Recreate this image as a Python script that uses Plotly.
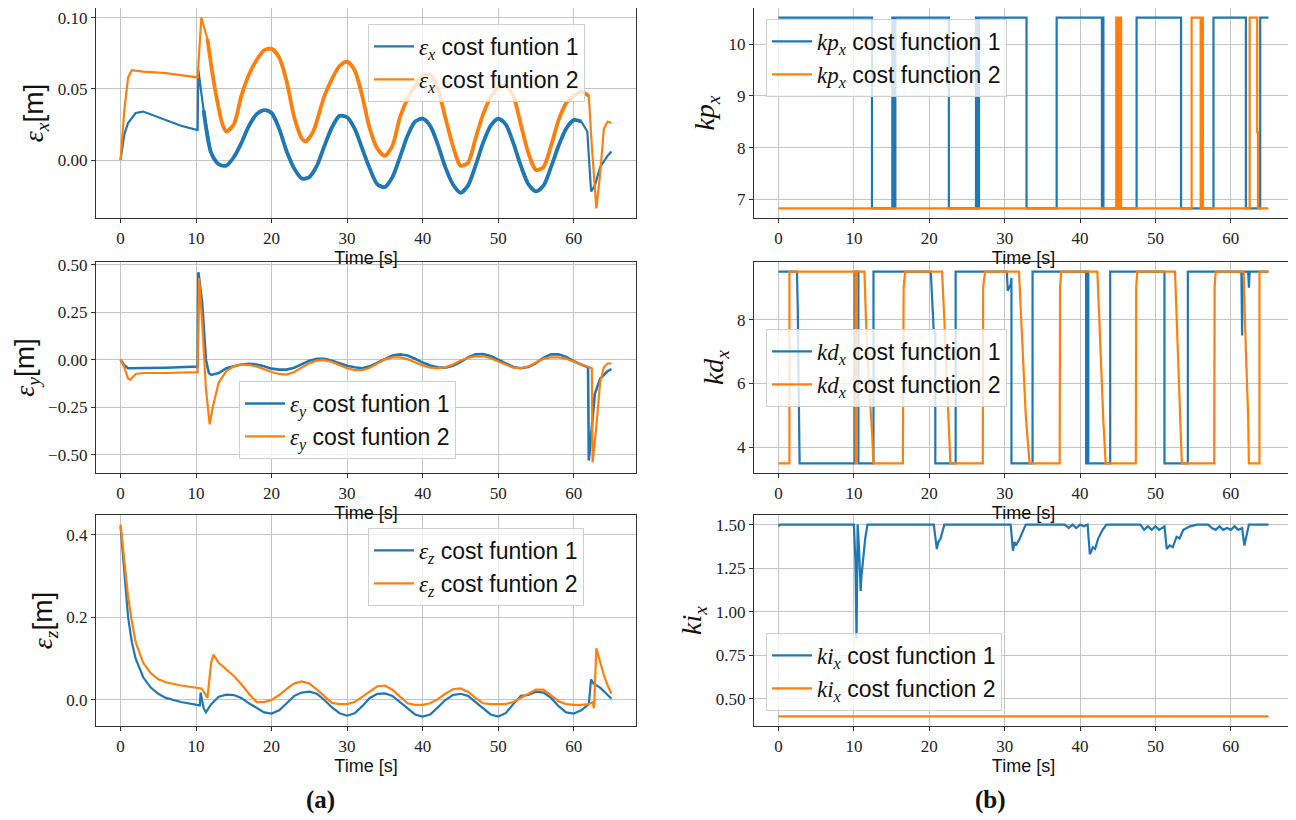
import plotly.graph_objects as go

# ---------------- data ----------------
time_ticks = [0, 10, 20, 30, 40, 50, 60]

# epsilon_x
ex1_t = [0, 0.5, 1, 2, 3, 4, 6, 8, 10.2, 10.3, 11, 12, 13, 14, 15, 16, 17, 18, 19, 20, 21, 22, 23, 24, 25, 26, 27, 28, 29, 30,
         31, 32, 33, 34, 35, 36, 37, 38, 39, 40, 41, 42, 43, 44, 45, 46, 47, 48, 49, 50, 51, 52, 53, 54, 55, 56, 57, 58, 59,
         60, 61, 61.8, 62.3, 62.8, 63.5, 64.5, 65]
ex1_v = [0.0, 0.018, 0.026, 0.033, 0.034, 0.032, 0.028, 0.024, 0.021, 0.063, 0.035, 0.005, -0.003, -0.004, 0.002, 0.012,
         0.024, 0.032, 0.035, 0.033, 0.022, 0.006, -0.006, -0.013, -0.012, -0.004, 0.010, 0.023, 0.031, 0.030, 0.022, 0.008,
         -0.006, -0.017, -0.019, -0.012, 0.002, 0.017, 0.027, 0.029, 0.024, 0.011, -0.005, -0.017, -0.023, -0.018, -0.004,
         0.012, 0.024, 0.029, 0.025, 0.012, -0.004, -0.017, -0.022, -0.018, -0.005, 0.010, 0.022, 0.028, 0.027, 0.020,
         -0.022, -0.018, -0.005, 0.003, 0.006]
ex2_t = [0, 0.5, 1, 1.5, 3, 6, 10.2, 10.7, 11.5, 12.5, 13.5, 14, 15, 16, 17, 18, 19, 20, 21, 22, 23, 24, 24.5, 25.5, 27, 28, 29,
         30, 31, 32, 33, 34, 35, 36, 37, 38, 39, 40, 41, 42, 43, 44, 45, 46, 47, 48, 49, 50, 51, 52, 53, 54, 55, 56, 57, 58,
         59, 60, 61, 62, 62.4, 63, 63.5, 64, 64.5, 65]
ex2_v = [0.0, 0.035, 0.058, 0.063, 0.062, 0.061, 0.058, 0.100, 0.085, 0.050, 0.025, 0.020, 0.025, 0.045, 0.060, 0.070, 0.077,
         0.078, 0.072, 0.055, 0.030, 0.015, 0.013, 0.020, 0.045, 0.057, 0.066, 0.069, 0.063, 0.045, 0.022, 0.008, 0.003,
         0.010, 0.030, 0.043, 0.052, 0.059, 0.060, 0.050, 0.030, 0.010, -0.004, -0.002, 0.015, 0.032, 0.044, 0.051, 0.052,
         0.045, 0.025, 0.005, -0.007, -0.005, 0.010, 0.028, 0.040, 0.045, 0.048, 0.045, 0.010, -0.034, -0.010, 0.022, 0.027,
         0.026]

# epsilon_y
ey1_t = [0, 0.5, 1, 3, 6, 10.2, 10.3, 10.8, 11.3, 11.7, 12, 13, 14, 15, 16, 17, 18, 19, 20, 21, 22, 23, 24, 25, 26, 27, 28, 29,
         30, 31, 32, 33, 34, 35, 36, 37, 38, 39, 40, 41, 42, 43, 44, 45, 46, 47, 48, 49, 50, 51, 52, 53, 54, 55, 56, 57, 58,
         59, 60, 61, 61.9, 62.0, 62.4, 62.8, 63.5, 64.5, 65]
ey1_v = [0.0, -0.03, -0.045, -0.045, -0.042, -0.036, 0.46, 0.30, 0.0, -0.07, -0.08, -0.07, -0.045, -0.035, -0.025, -0.022,
         -0.025, -0.035, -0.047, -0.052, -0.052, -0.042, -0.022, -0.005, 0.005, 0.005, -0.005, -0.02, -0.032, -0.04, -0.045,
         -0.035, -0.015, 0.005, 0.022, 0.028, 0.022, 0.005, -0.015, -0.03, -0.04, -0.042, -0.032, -0.012, 0.012, 0.028,
         0.030, 0.020, 0.0, -0.022, -0.038, -0.045, -0.038, -0.018, 0.010, 0.028, 0.028, 0.015, -0.008, -0.025, -0.04,
         -0.53, -0.35, -0.18, -0.10, -0.06, -0.05]
ey2_t = [0, 0.5, 1, 1.3, 2, 3, 6, 10.2, 10.4, 10.8, 11.3, 11.8, 12.2, 13, 14, 15, 16, 17, 18, 19, 20, 21, 22, 23, 24, 25, 26,
         27, 28, 29, 30, 31, 32, 33, 34, 35, 36, 37, 38, 39, 40, 41, 42, 43, 44, 45, 46, 47, 48, 49, 50, 51, 52, 53, 54, 55,
         56, 57, 58, 59, 60, 61, 62.4, 62.5, 63, 63.5, 64, 64.5, 65]
ey2_v = [0.0, -0.04, -0.10, -0.105, -0.075, -0.07, -0.07, -0.065, 0.43, 0.20, -0.15, -0.34, -0.25, -0.12, -0.06, -0.035,
         -0.025, -0.028, -0.035, -0.05, -0.065, -0.075, -0.078, -0.065, -0.04, -0.018, -0.005, -0.002, -0.012, -0.03,
         -0.045, -0.055, -0.055, -0.042, -0.02, 0.002, 0.012, 0.012, 0.003, -0.015, -0.03, -0.042, -0.045, -0.04, -0.025,
         -0.005, 0.01, 0.018, 0.018, 0.008, -0.01, -0.028, -0.042, -0.045, -0.035, -0.015, 0.005, 0.012, 0.012, 0.005,
         -0.01, -0.028, -0.045, -0.54, -0.35, -0.12, -0.04, -0.02, -0.02]

# epsilon_z
ez1_t = [0, 0.5, 1, 1.5, 2, 3, 4, 5, 6, 8, 10, 10.5, 10.6, 11, 11.3, 12, 13, 14, 15, 16, 17, 18, 19, 20, 21, 22, 23, 24, 25,
         26, 27, 28, 29, 30, 31, 32, 33, 34, 35, 36, 37, 38, 39, 40, 41, 42, 43, 44, 45, 46, 47, 48, 49, 50, 51, 52, 53, 54,
         55, 56, 57, 58, 59, 60, 61, 62, 62.3, 62.6, 63.5, 64.5, 65]
ez1_v = [0.42, 0.30, 0.20, 0.14, 0.10, 0.055, 0.03, 0.015, 0.005, -0.005, -0.012, -0.013, 0.018, -0.02, -0.03, -0.01, 0.008,
         0.013, 0.012, 0.005, -0.008, -0.02, -0.03, -0.033, -0.025, -0.008, 0.010, 0.018, 0.02, 0.015, 0.0, -0.018, -0.032,
         -0.038, -0.032, -0.015, 0.005, 0.015, 0.016, 0.01, -0.005, -0.022, -0.035, -0.04, -0.035, -0.018, 0.0, 0.012,
         0.015, 0.01, -0.005, -0.022, -0.035, -0.04, -0.032, -0.01, 0.01, 0.012, 0.02, 0.018, 0.005, -0.015, -0.03, -0.033,
         -0.025, -0.01, 0.05, 0.04, 0.03, 0.012, 0.003]
ez2_t = [0, 0.5, 1, 1.5, 2, 3, 4, 5, 6, 8, 10, 10.7, 11.2, 11.5, 12, 12.3, 13, 14, 15, 16, 17, 18, 19, 20, 21, 22, 23, 24, 25,
         26, 27, 28, 29, 30, 31, 32, 33, 34, 35, 36, 37, 38, 39, 40, 41, 42, 43, 44, 45, 46, 47, 48, 49, 50, 51, 52, 53, 54,
         55, 56, 57, 58, 59, 60, 61, 62, 62.5, 62.7, 63.0, 63.5, 64, 64.5, 65]
ez2_v = [0.425, 0.33, 0.25, 0.19, 0.14, 0.09, 0.065, 0.05, 0.043, 0.035, 0.03, 0.028, 0.015, 0.005, 0.09, 0.11, 0.09, 0.075,
         0.058, 0.038, 0.015, -0.005, -0.005, 0.0, 0.012, 0.027, 0.04, 0.045, 0.04, 0.025, 0.008, -0.007, -0.01, -0.01,
         -0.005, 0.008, 0.022, 0.033, 0.035, 0.025, 0.008, -0.008, -0.012, -0.012, -0.008, 0.002, 0.015, 0.026, 0.028, 0.02,
         0.005, -0.008, -0.01, -0.01, -0.01, -0.005, 0.005, 0.015, 0.025, 0.025, 0.012, -0.003, -0.01, -0.012, -0.012,
         -0.01, -0.005, -0.02, 0.125, 0.09, 0.06, 0.035, 0.015]

# kp_x (step changes, held until next time)
kp1_t = [0, 12.4, 15.1, 15.3, 15.5, 22.6, 26.2, 26.4, 26.6, 32.9, 36.9, 42.9, 43.0, 43.1, 47.5, 53.4, 57.7, 62.0, 63.9, 65]
kp1_v = [10.52, 6.82, 10.52, 6.82, 10.52, 6.82, 10.52, 6.82, 10.52, 6.82, 10.52, 6.82, 10.52, 6.82, 10.52, 6.82, 10.52,
         6.82, 10.52, 10.52]
kp2_t = [0, 44.8, 44.95, 45.05, 45.2, 45.3, 45.45, 54.8, 56.0, 56.1, 56.3, 62.5, 63.5, 63.6, 65]
kp2_v = [6.82, 10.52, 6.82, 10.52, 6.82, 10.52, 6.82, 10.52, 6.82, 10.52, 6.82, 10.52, 8.3, 6.82, 6.82]

# kd_x
kd1_t = [0, 2.45, 2.55, 2.8, 10.1, 10.1, 10.6, 10.6, 12.6, 12.6, 20.2, 20.6, 20.8, 20.8, 23.5, 23.5, 30.3, 30.4, 30.8, 30.9,
         30.9, 33.7, 33.7, 40.8, 40.8, 40.95, 40.95, 41.1, 41.1, 44.0, 44.0, 51.2, 51.2, 54.3, 54.3, 61.4, 61.5, 61.6, 62.3,
         62.4, 62.5, 65]
kd1_v = [9.5, 9.5, 8.4, 3.5, 3.5, 9.5, 9.5, 3.5, 3.5, 9.5, 9.5, 7.6, 7.6, 3.5, 3.5, 9.5, 9.5, 8.9, 9.1, 9.3, 3.5, 3.5, 9.5,
         9.5, 3.5, 3.5, 9.5, 9.5, 3.5, 3.5, 9.5, 9.5, 3.5, 3.5, 9.5, 9.5, 7.5, 9.5, 9.5, 9.0, 9.5, 9.5]
kd2_t = [0, 1.45, 1.45, 10.2, 10.25, 10.35, 10.4, 11.4, 11.6, 12.0, 12.4, 12.6, 16.5, 16.6, 16.8, 21.7, 22.0, 22.4, 22.8, 27.1,
         27.15, 27.4, 31.9, 32.3, 32.8, 33.3, 37.3, 37.35, 37.5, 42.3, 42.7, 43.1, 43.4, 47.4, 47.45, 47.6, 52.6, 53.0, 53.3,
         53.5, 57.8, 57.85, 58.0, 61.7, 62.0, 62.3, 62.4, 63.8, 63.8, 65]
kd2_v = [3.5, 3.5, 9.5, 9.5, 3.5, 3.5, 9.5, 9.5, 8.0, 6.0, 4.5, 3.5, 3.5, 9.0, 9.5, 9.5, 8.0, 6.0, 3.5, 3.5, 9.0, 9.5, 9.5,
         7.5, 5.0, 3.5, 3.5, 9.0, 9.5, 9.5, 7.0, 4.8, 3.5, 3.5, 9.0, 9.5, 9.5, 7.0, 5.0, 3.5, 3.5, 9.0, 9.5, 9.5, 7.0, 5.0,
         3.5, 3.5, 9.5, 9.5]

# ki_x
ki1_t = [0, 0.2, 10.0, 10.2, 10.35, 10.45, 10.5, 10.7, 10.9, 11.0, 11.2, 11.5, 11.8, 20.6, 21.0, 21.2, 21.5, 21.8, 22.0, 30.8,
         31.1, 31.3, 31.5, 32.0, 32.5, 32.8, 38.0, 38.5, 39.0, 39.5, 40.0, 40.5, 41.0, 41.3, 41.7, 42.0, 42.4, 43.0, 43.5,
         48.0, 48.5, 49.0, 49.5, 50.0, 50.5, 51.2, 51.5, 51.9, 52.3, 52.8, 53.2, 53.7, 54.6, 55.5, 57.0, 57.5, 58.0, 58.5,
         59.0, 59.5, 60.0, 60.5, 61.0, 61.5, 61.8, 62.1, 62.4, 65]
ki1_v = [1.49, 1.5, 1.5, 1.3, 0.85, 1.3, 1.5, 1.35, 1.12, 1.2, 1.3, 1.42, 1.5, 1.5, 1.36, 1.4, 1.42, 1.47, 1.5, 1.5, 1.35,
         1.4, 1.38, 1.42, 1.47, 1.5, 1.5, 1.48, 1.5, 1.48, 1.5, 1.49, 1.5, 1.33, 1.37, 1.36, 1.42, 1.47, 1.5, 1.5, 1.47, 1.49,
         1.47, 1.49, 1.47, 1.49, 1.36, 1.38, 1.37, 1.43, 1.42, 1.47, 1.49, 1.5, 1.5, 1.48, 1.47, 1.49, 1.47, 1.48, 1.47, 1.49,
         1.47, 1.48, 1.38, 1.45, 1.5, 1.5]
ki2_t = [0, 65]
ki2_v = [0.4, 0.4]

BLUE = "#1f77b4"
ORANGE = "#ff7f0e"
SERIF = "Liberation Serif"
SANS = "Liberation Sans"


def math(sym, sub):
    return (f"<span style=\"font-family:'{SERIF}';font-style:italic\">{sym}<sub>{sub}</sub></span>")


fig = go.Figure()

# the page body adds an 8 px margin, so the figure is 8 px smaller and positions are shifted
OFF = 8
W, H = 1296 - OFF, 820 - OFF
def dom_x(a, b):
    return [(a - OFF) / W, (b - OFF) / W]
def dom_y(top, bot):
    return [1 - (bot - OFF) / H, 1 - (top - OFF) / H]
def px(x, y):
    return (x - OFF) / W, 1 - (y - OFF) / H

panels = [
    dict(n=1, xd=dom_x(96, 636), yd=dom_y(8, 218), yr=[-0.0407, 0.1067], yt=[0.0, 0.05, 0.10], fmt=".2f",
         title=math("ε", "x") + "[m]"),
    dict(n=2, xd=dom_x(96, 636), yd=dom_y(262, 473), yr=[-0.596, 0.514], yt=[-0.5, -0.25, 0.0, 0.25, 0.5], fmt=".2f",
         title=math("ε", "y") + "[m]"),
    dict(n=3, xd=dom_x(96, 636), yd=dom_y(515, 726), yr=[-0.063, 0.448], yt=[0.0, 0.2, 0.4], fmt=".1f",
         title=math("ε", "z") + "[m]"),
    dict(n=4, xd=dom_x(754, 1293), yd=dom_y(8, 218), yr=[6.635, 10.705], yt=[7, 8, 9, 10], fmt="d",
         title=math("kp", "x")),
    dict(n=5, xd=dom_x(754, 1293), yd=dom_y(262, 473), yr=[3.2, 9.8], yt=[4, 6, 8], fmt="d",
         title=math("kd", "x")),
    dict(n=6, xd=dom_x(754, 1293), yd=dom_y(515, 726), yr=[0.345, 1.555], yt=[0.5, 0.75, 1.0, 1.25, 1.5], fmt=".2f",
         title=math("ki", "x")),
]

axis_common = dict(showline=True, linecolor="#333333", linewidth=1.3, mirror=True, ticks="outside", ticklen=4,
                   tickcolor="#333333", showgrid=True, gridcolor="#c4c4c4", gridwidth=1, zeroline=False,
                   automargin=False, ticklabeloverflow="allow",
                   tickfont=dict(family=SERIF, size=17, color="#222222"))

layout = {}
for p in panels:
    n = p["n"]
    xs = "xaxis" if n == 1 else f"xaxis{n}"
    ys = "yaxis" if n == 1 else f"yaxis{n}"
    layout[xs] = dict(axis_common, domain=p["xd"], anchor="y" if n == 1 else f"y{n}", range=[-3.25, 68.25],
                      tickvals=time_ticks, title=dict(text="Time [s]", font=dict(family=SANS, size=18, color="#111"),
                                                     standoff=0))
    layout[ys] = dict(axis_common, domain=p["yd"], anchor="x" if n == 1 else f"x{n}", range=p["yr"],
                      tickvals=p["yt"], tickformat=p["fmt"],
                      title=dict(text=p["title"], font=dict(family=SANS, size=28, color="#111"), standoff=5))

def add(t, v, color, name, n, leg, width=2.2, shape="linear", show=True, smooth=None):
    line = dict(color=color, width=width, shape=shape)
    if smooth is not None:
        line["smoothing"] = smooth
    fig.add_trace(go.Scatter(x=t, y=v, mode="lines", name=name, line=line,
                             xaxis="x" if n == 1 else f"x{n}", yaxis="y" if n == 1 else f"y{n}",
                             legend=leg, showlegend=show, legendgroup=f"{leg}{color}", hoverinfo="skip"))

def cost(sym, sub, k, word="funtion"):
    return math(sym, sub) + f" cost {word} {k}"

add(ex1_t, ex1_v, BLUE, cost("ε", "x", 1), 1, "legend")
add(ex1_t[10:-6], ex1_v[10:-6], BLUE, "", 1, "legend", width=3.8, show=False, shape="spline", smooth=0.8)
add(ex2_t, ex2_v, ORANGE, cost("ε", "x", 2), 1, "legend")
add(ex2_t[8:-6], ex2_v[8:-6], ORANGE, "", 1, "legend", width=3.8, show=False, shape="spline", smooth=0.8)
add(ey1_t, ey1_v, BLUE, cost("ε", "y", 1), 2, "legend2", width=2.6)
add(ey2_t, ey2_v, ORANGE, cost("ε", "y", 2), 2, "legend2")
add(ez1_t, ez1_v, BLUE, cost("ε", "z", 1), 3, "legend3")
add(ez2_t, ez2_v, ORANGE, cost("ε", "z", 2), 3, "legend3")
add(kp1_t, kp1_v, BLUE, cost("kp", "x", 1, "function"), 4, "legend4", shape="hv")
add(kp2_t, kp2_v, ORANGE, cost("kp", "x", 2, "function"), 4, "legend4", shape="hv")
add(kd1_t, kd1_v, BLUE, cost("kd", "x", 1, "function"), 5, "legend5")
add(kd2_t, kd2_v, ORANGE, cost("kd", "x", 2, "function"), 5, "legend5")
add(ki1_t, ki1_v, BLUE, cost("ki", "x", 1, "function"), 6, "legend6")
add(ki2_t, ki2_v, ORANGE, cost("ki", "x", 2, "function"), 6, "legend6")

leg_common = dict(xanchor="left", yanchor="top", bgcolor="rgba(255,255,255,0.8)", bordercolor="#d0d0d0", borderwidth=1,
                  font=dict(family=SANS, size=23, color="#111"), tracegroupgap=0, itemwidth=40)
legpos = {"legend": (368, 24), "legend2": (239, 381), "legend3": (368, 528), "legend4": (766, 19),
          "legend5": (766, 329), "legend6": (766, 633)}
for k, (x, y) in legpos.items():
    lx, ly = px(x, y)
    layout[k] = dict(leg_common, x=lx, y=ly)

ax_, ay_ = px(320, 800)
bx_, by_ = px(990, 800)
fig.update_layout(**layout)
fig.update_layout(width=W, height=H, margin=dict(l=0, r=0, t=0, b=0, autoexpand=False), plot_bgcolor="white",
                  paper_bgcolor="white", font=dict(family=SANS),
                  annotations=[
                      dict(text="<b>(a)</b>", x=ax_, y=ay_, xref="paper", yref="paper", showarrow=False,
                           xanchor="center", yanchor="middle", font=dict(family=SERIF, size=25, color="#111")),
                      dict(text="<b>(b)</b>", x=bx_, y=by_, xref="paper", yref="paper", showarrow=False,
                           xanchor="center", yanchor="middle", font=dict(family=SERIF, size=25, color="#111")),
                  ])

fig.write_html("out.html")
